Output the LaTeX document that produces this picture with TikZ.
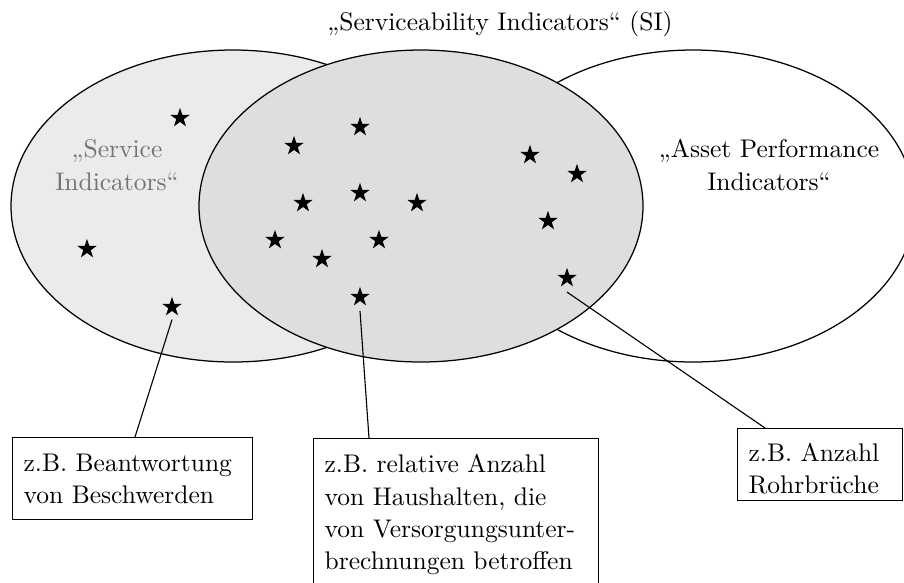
\documentclass[tikz,border=0pt]{standalone}
\usetikzlibrary{shapes.geometric,calc}
\begin{document}
\begin{tikzpicture}[x=0.4pt,y=-0.4pt,
  font=\fontsize{10.2pt}{12.9pt}\selectfont,
  setring/.style={draw=black,line width=0.5pt},
  mark star/.style={star,star points=5,star point ratio=2.6,fill=black,
    inner sep=0pt,minimum size=8.2pt},
  example/.style={draw=black,line width=0.5pt,align=left,inner xsep=4.4pt,
    inner ysep=6.4pt,anchor=north west},
  pointer/.style={line width=0.45pt}]
\useasboundingbox (0,0) rectangle (904,582);

% the three indicator sets
\path[setring,fill=black!8] (233,206) ellipse [x radius=88.8pt,y radius=62.4pt];
\path[setring,fill=white]   (693,206) ellipse [x radius=88.8pt,y radius=62.4pt];
\path[setring,fill=black!13] (421,206) ellipse [x radius=88.8pt,y radius=62.4pt];

% set labels (base = baseline of the last line)
\node[anchor=base] (title) at (500,30) {„Serviceability Indicators“ (SI)};
\node[anchor=base,align=center,text=black!55,font=\fontsize{10.2pt}{13.2pt}\selectfont]
  (si) at (117,190) {„Service\\Indicators“};
\node[anchor=base,align=center,font=\fontsize{10.2pt}{13.2pt}\selectfont]
  (api) at (769,190) {„Asset Performance\\Indicators“};

% individual indicators
\node[mark star] (s1)  at (180,118) {};
\node[mark star] (s2)  at (87,249) {};
\node[mark star] (s3)  at (172,307) {};
\node[mark star] (s4)  at (360,127) {};
\node[mark star] (s5)  at (294,146) {};
\node[mark star] (s6)  at (360,193) {};
\node[mark star] (s7)  at (303,203) {};
\node[mark star] (s8)  at (417,203) {};
\node[mark star] (s9)  at (275,240) {};
\node[mark star] (s10) at (379,240) {};
\node[mark star] (s11) at (322,259) {};
\node[mark star] (s12) at (360,297) {};
\node[mark star] (s13) at (530,155) {};
\node[mark star] (s14) at (577,174) {};
\node[mark star] (s15) at (548,221) {};
\node[mark star] (s16) at (567,278) {};

% examples
\node[example,text width=87.2pt] (b1) at (12,437)
  {z.B. Beantwortung\\von Beschwerden};
\node[example,text width=105.2pt] (b2) at (313,438)
  {z.B. relative Anzahl\\von Haushalten, die\\von Versorgungsunter-\\brechnungen betroffen};
\node[example,text width=57.2pt,inner ysep=2.4pt] (b3) at (737,428)
  {\rule{0pt}{10.8pt}z.B. Anzahl\\Rohrbrüche};

% pointers from indicators to examples
\draw[pointer] ([yshift=-3.2pt]s3.south) -- ($(b1.north west)+(123,0)$);
\draw[pointer] ([yshift=-3.8pt]s12.south) -- ($(b2.north west)+(56,0)$);
\draw[pointer] ([yshift=-3.8pt]s16.south) -- ($(b3.north west)+(28,0)$);
\end{tikzpicture}
\end{document}
